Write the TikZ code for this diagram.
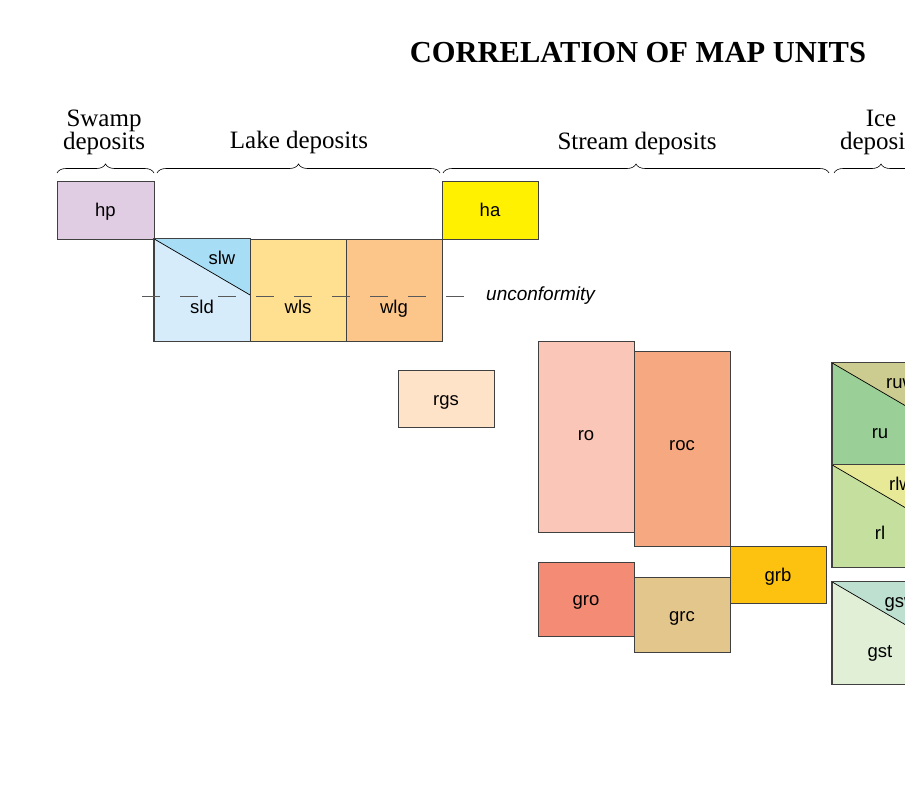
\documentclass[tikz,border=0pt]{standalone}
\usepackage{fontspec}
\setmainfont{Liberation Serif}
\setsansfont{Liberation Sans}
\usetikzlibrary{calc,decorations.pathreplacing}

\definecolor{hpfill}{HTML}{E0CCE3}
\definecolor{hafill}{HTML}{FFF100}
\definecolor{sldfill}{HTML}{D6ECFA}
\definecolor{slwfill}{HTML}{A8DDF6}
\definecolor{wlsfill}{HTML}{FFDF90}
\definecolor{wlgfill}{HTML}{FCC589}
\definecolor{rgsfill}{HTML}{FFE3C8}
\definecolor{rofill}{HTML}{F9C6B8}
\definecolor{rocfill}{HTML}{F6A880}
\definecolor{grbfill}{HTML}{FDC20F}
\definecolor{grofill}{HTML}{F48C75}
\definecolor{grcfill}{HTML}{E3C68C}
\definecolor{rufill}{HTML}{9ACF97}
\definecolor{ruwfill}{HTML}{CCCC90}
\definecolor{rlfill}{HTML}{C4DF9E}
\definecolor{rlwfill}{HTML}{E8E996}
\definecolor{gstfill}{HTML}{E2EFD7}
\definecolor{gswfill}{HTML}{BEE0D0}

\tikzset{
  unit box/.style={draw=black!75, line width=0.7pt, minimum width=96pt, minimum height=58pt,
    inner sep=0pt, text height=16.5pt, text depth=3.3pt,
    font=\sffamily\fontsize{18.5}{20}\selectfont},
  unit label/.style={inner sep=0pt, text height=16.5pt, text depth=3.3pt,
    font=\sffamily\fontsize{18.5}{20}\selectfont},
  group label/.style={align=center, inner sep=0pt, font=\fontsize{25}{23}\selectfont},
  group brace/.style={decorate, decoration={brace, amplitude=9pt}, line width=0.6pt},
  unconformity line/.style={draw=black!65, line width=0.8pt, dash pattern=on 18pt off 20pt}
}

\begin{document}
\begin{tikzpicture}[x=1pt, y=-1pt]

\clip (0,0) rectangle (905,800);
\useasboundingbox (0,0) rectangle (905,800);

\node[font=\bfseries\fontsize{30.5}{30}\selectfont] (title) at (638,53) {CORRELATION OF MAP UNITS};

% group headings
\node[group label] (swamp) at (104,132) {Swamp\\deposits};
\node[group label] (lake) at (299,142) {Lake deposits};
\node[group label] (stream) at (637,143) {Stream deposits};
\node[group label] (ice) at (881,132) {Ice\\deposits};

\coordinate (swamp-l) at (57,173);
\coordinate (swamp-r) at (154,173);
\coordinate (lake-l) at (157,173);
\coordinate (lake-r) at (440,173);
\coordinate (stream-l) at (443,173);
\coordinate (stream-r) at (829,173);
\coordinate (ice-l) at (834,173);
\coordinate (ice-r) at (928,173);

\draw[group brace] (swamp-l) -- (swamp-r);
\draw[group brace] (lake-l) -- (lake-r);
\draw[group brace] (stream-l) -- (stream-r);
\draw[group brace] (ice-l) -- (ice-r);

% swamp and lake units
\node[unit box, fill=hpfill, minimum width=97pt] (hp) at (105.5,210) {hp};
\node[unit box, fill=hafill] (ha) at (490,210) {ha};

\node[unit box, fill=sldfill, minimum height=102pt] (sld) at (202,290) {};
\fill[slwfill] (sld.north west) -- (sld.north east) -- ($(sld.north east)!0.55!(sld.south east)$) -- cycle;
\draw[line width=0.7pt] (sld.north west) -- ($(sld.north east)!0.55!(sld.south east)$);
\draw[draw=black!75, line width=0.7pt] (sld.north west) rectangle (sld.south east);
\node[unit box, fill=wlsfill, minimum height=102pt] (wls) at (298,290) {};
\node[unit box, fill=wlgfill, minimum height=102pt] (wlg) at (394,290) {};

\node[unit label] (slw-text) at (222,258) {slw};
\node[unit label] (sld-text) at (202,307) {sld};
\node[unit label] (wls-text) at (298,307) {wls};
\node[unit label] (wlg-text) at (394,307) {wlg};

\coordinate (unconf-l) at (142,296);
\coordinate (unconf-r) at (468,296);
\draw[unconformity line] (unconf-l) -- (unconf-r);
\node[anchor=west, inner sep=0pt, font=\sffamily\itshape\fontsize{19}{20}\selectfont] (unconf) at (486,296) {unconformity};

% stream units
\node[unit box, fill=rgsfill, minimum height=57pt] (rgs) at (446,398.5) {rgs};
\node[unit box, fill=rofill, minimum height=191pt] (ro) at (586,436.5) {};
\node[unit box, fill=rocfill, minimum height=195pt] (roc) at (682,448.5) {};
\node[unit label] (ro-text) at (586,433.5) {ro};
\node[unit label] (roc-text) at (682,443.5) {roc};
\node[unit box, fill=grbfill, minimum height=57pt] (grb) at (778,574.5) {grb};
\node[unit box, fill=grofill, minimum height=74pt] (gro) at (586,599) {gro};
\node[unit box, fill=grcfill, minimum height=75pt] (grc) at (682,614.5) {grc};

% ice units
\node[unit box, fill=rufill, minimum height=102pt] (ru) at (880,414) {};
\node[unit box, fill=rlfill, minimum height=102pt] (rl) at (880,516) {};
\node[unit box, fill=gstfill, minimum height=102pt] (gst) at (880,633) {};
\foreach \u/\w in {ru/ruwfill, rl/rlwfill, gst/gswfill} {
  \fill[\w] (\u.north west) -- (\u.north east) -- ($(\u.north east)!0.55!(\u.south east)$) -- cycle;
  \draw[line width=0.7pt] (\u.north west) -- ($(\u.north east)!0.55!(\u.south east)$);
  \draw[draw=black!75, line width=0.7pt] (\u.north west) rectangle (\u.south east);
}
\node[unit label] (ruw-text) at (901,382) {ruw};
\node[unit label] (ru-text) at (880,432) {ru};
\node[unit label] (rlw-text) at (901,484) {rlw};
\node[unit label] (rl-text) at (880,533) {rl};
\node[unit label] (gsw-text) at (901,601) {gsw};
\node[unit label] (gst-text) at (880,651) {gst};

\end{tikzpicture}
\end{document}
